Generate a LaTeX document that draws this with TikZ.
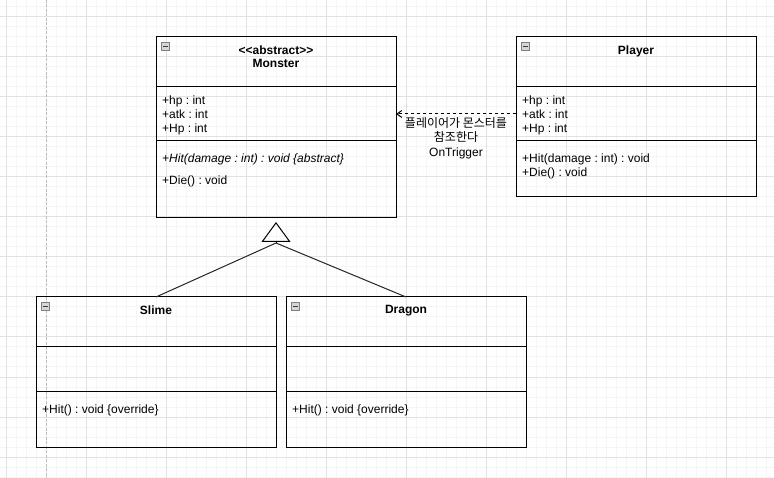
\documentclass[tikz,border=0pt]{standalone}
\usepackage{fontspec}
\setmainfont{Liberation Sans}
\newfontfamily\krfont{Noto Sans CJK KR}
\frenchspacing
\usetikzlibrary{positioning,arrows.meta,calc}
\definecolor{gridmajor}{HTML}{E2E2E2}
\definecolor{gridminor}{HTML}{F5F5F5}
\definecolor{pageline}{HTML}{BDBDBD}
\definecolor{foldfill}{HTML}{D6D6D6}
\definecolor{folddraw}{HTML}{808080}
\definecolor{foldmark}{HTML}{3A3A3A}
\tikzset{
  classpart/.style={draw=black, line width=1pt, minimum width=240pt,
    inner sep=0pt, outer sep=0pt},
  classname/.style={font=\fontsize{12}{13}\selectfont\bfseries, align=center,
    inner sep=0pt, anchor=north},
  membertxt/.style={font=\fontsize{12}{14}\selectfont, align=left, inner sep=0pt},
  foldbox/.style={draw=folddraw, fill=foldfill, line width=0.8pt,
    minimum size=8pt, inner sep=0pt,
    path picture={\draw[foldmark, line width=1.3pt]
      ([xshift=1.8pt]path picture bounding box.west) --
      ([xshift=-1.8pt]path picture bounding box.east);}},
  depflow/.style={-{Straight Barb[length=5pt, width=7pt]}, dashed,
    dash pattern=on 3pt off 3pt, line width=1pt, draw=black},
  deplab/.style={font=\fontsize{12}{14.5}\selectfont, align=center, inner sep=0pt},
  genflow/.style={-{Triangle[open, length=20pt, width=29pt]}, line width=1pt, draw=black},
  genline/.style={line width=1pt, draw=black!85},
  gridminorline/.style={draw=gridminor, line width=1pt},
  gridmajorline/.style={draw=gridmajor, line width=1pt},
}
\begin{document}
\begin{tikzpicture}[x=1pt, y=-1pt, font=\fontsize{12}{14}\selectfont]
\useasboundingbox (0,0) rectangle (774,478);
% --- canvas grid ---
\fill[white] (0,0) rectangle (774,478);
\foreach \gx in {6,16,...,766} \draw[gridminorline] (\gx,0) -- (\gx,478);
\foreach \gy in {7,17,...,477} \draw[gridminorline] (0,\gy) -- (774,\gy);
\foreach \gx in {6,86,...,766} \draw[gridmajorline] (\gx,0) -- (\gx,478);
\foreach \gy in {17,57,...,457} \draw[gridmajorline] (0,\gy) -- (774,\gy);
\draw[draw=pageline, line width=1pt, dash pattern=on 3pt off 1.5pt] (46,0) -- (46,478);
% --- Monster ---
\node[classpart, minimum height=50pt, anchor=north west] (monhead) at (156,37) {};
\node[classpart, minimum height=54pt, below=0pt of monhead] (monattr) {};
\node[classpart, minimum height=77pt, below=0pt of monattr] (monmeth) {};
\node[foldbox, below right=5pt and 5pt of monhead.north west] (monfold) {};
\node[classname, below=9pt of monhead.north] (monname) {<\kern0pt<abstract>\kern0pt>\\Monster};
\node[membertxt, below right=8.5pt and 6pt of monattr.north west] (monattrtxt) {+hp : int\\+atk : int\\+Hp : int};
\node[membertxt, below right=12.5pt and 6pt of monmeth.north west] (monmethtxt)
  {{\itshape +Hit(damage : int) : void \{abstract\}}\\[8pt]+Die() : void};
% --- Player ---
\node[classpart, minimum height=50pt, anchor=north west] (plyhead) at (516,37) {};
\node[classpart, minimum height=54pt, below=0pt of plyhead] (plyattr) {};
\node[classpart, minimum height=56pt, below=0pt of plyattr] (plymeth) {};
\node[foldbox, below right=5pt and 5pt of plyhead.north west] (plyfold) {};
\node[classname, below=9pt of plyhead.north] (plyname) {Player};
\node[membertxt, below right=8.5pt and 6pt of plyattr.north west] (plyattrtxt) {+hp : int\\+atk : int\\+Hp : int};
\node[membertxt, below right=12.5pt and 6pt of plymeth.north west] (plymethtxt) {+Hit(damage : int) : void\\+Die() : void};
% --- Slime ---
\node[classpart, minimum height=50pt, anchor=north west] (slimehead) at (36,297) {};
\node[classpart, minimum height=44pt, below=0pt of slimehead] (slimeattr) {};
\node[classpart, minimum height=56pt, below=0pt of slimeattr] (slimemeth) {};
\node[foldbox, below right=5pt and 5pt of slimehead.north west] (slimefold) {};
\node[classname, below=8.5pt of slimehead.north] (slimename) {Slime};
\node[membertxt, below right=13.5pt and 6pt of slimemeth.north west] (slimemethtxt) {+Hit() : void \{override\}};
% --- Dragon ---
\node[classpart, minimum height=50pt, anchor=north west] (dragonhead) at (286,297) {};
\node[classpart, minimum height=44pt, below=0pt of dragonhead] (dragonattr) {};
\node[classpart, minimum height=56pt, below=0pt of dragonattr] (dragonmeth) {};
\node[foldbox, below right=5pt and 5pt of dragonhead.north west] (dragonfold) {};
\node[classname, below=8.5pt of dragonhead.north] (dragonname) {Dragon};
\node[membertxt, below right=13.5pt and 6pt of dragonmeth.north west] (dragonmethtxt) {+Hit() : void \{override\}};
% --- relations ---
\draw[depflow] (plyattr.west) -- node[deplab, below=3pt] (deptxt)
  {{\krfont 플레이어가 몬스터를}\\{\krfont 참조한다}\\OnTrigger} (monattr.east);
\coordinate[below=25pt of monmeth.south] (genjoin);
\draw[genflow] (genjoin) -- ([yshift=-4pt]monmeth.south);
\draw[genline] (slimehead.north) -- (genjoin);
\draw[genline] (dragonhead.north) -- (genjoin);
\end{tikzpicture}
\end{document}
